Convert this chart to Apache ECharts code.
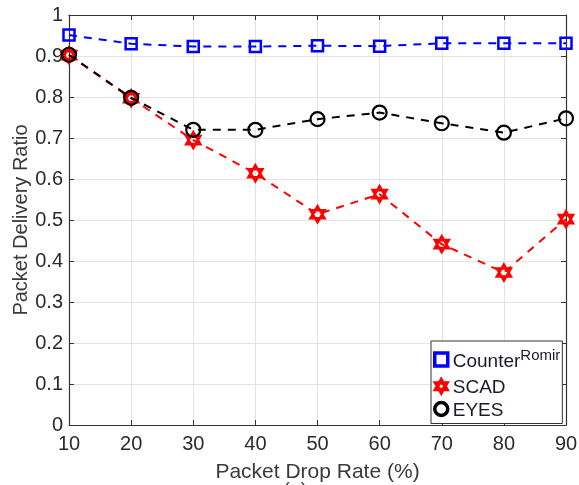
<!DOCTYPE html>
<html>
<head>
<meta charset="utf-8">
<script src="https://cdn.jsdelivr.net/npm/echarts@6/dist/echarts.min.js"></script>
<style>html,body{margin:0;padding:0;background:#fff;}#c{width:579px;height:485px;}</style>
</head>
<body>
<div id="c"></div>
<script>
var dropRates = [10, 20, 30, 40, 50, 60, 70, 80, 90];
var counterRomir = [0.951, 0.930, 0.923, 0.923, 0.925, 0.924, 0.931, 0.931, 0.931];
var scad = [0.902, 0.797, 0.695, 0.614, 0.514, 0.563, 0.441, 0.372, 0.502];
var eyes = [0.903, 0.798, 0.720, 0.720, 0.746, 0.762, 0.736, 0.713, 0.748];
var yTicks = [0, 0.1, 0.2, 0.3, 0.4, 0.5, 0.6, 0.7, 0.8, 0.9, 1];

function pairs(vals) { return dropRates.map(function (x, i) { return [x, vals[i]]; }); }

var hexagram = 'path://M0,-10L8.66,5L-8.66,5Z M0,10L-8.66,-5L8.66,-5Z';
var FONT = 'Liberation Sans, Arial, sans-serif';
var axisColor = '#333';
var textColor = '#2a2a30';

var chart = echarts.init(document.getElementById('c'), null, { renderer: 'canvas' });
chart.setOption({
  animation: false,
  backgroundColor: '#fff',
  grid: { left: 69, right: 13, top: 15, bottom: 60, show: false, containLabel: false, outerBoundsMode: 'none' },
  xAxis: [{
    type: 'value', min: 10, max: 90, interval: 10,
    name: 'Packet Drop Rate (%)', nameLocation: 'middle', nameGap: 37,
    nameTextStyle: { fontFamily: FONT, fontSize: 21, color: '#3a3a3a' },
    axisLine: { show: true, lineStyle: { color: axisColor, width: 1.2 } },
    axisTick: { show: true, inside: true, length: 5, lineStyle: { color: axisColor } },
    axisLabel: { fontFamily: FONT, fontSize: 20, color: textColor, margin: 9 },
    splitLine: { show: true, lineStyle: { color: '#e3e3e3', width: 1 } }
  }, {
    type: 'value', min: 10, max: 90, interval: 10, position: 'top',
    axisLine: { show: true, onZero: false, lineStyle: { color: axisColor, width: 1.2 } },
    axisTick: { show: true, inside: true, length: 5, lineStyle: { color: axisColor } },
    axisLabel: { show: false }, splitLine: { show: false }
  }],
  yAxis: [{
    type: 'value', min: 0, max: 1, interval: 0.1,
    name: 'Packet Delivery Ratio', nameLocation: 'middle', nameGap: 38, nameMoveOverlap: false,
    nameTextStyle: { fontFamily: FONT, fontSize: 20, color: '#3a3a3a' },
    axisLine: { show: true, lineStyle: { color: axisColor, width: 1.2 } },
    axisTick: { show: true, inside: true, length: 5, lineStyle: { color: axisColor } },
    axisLabel: { fontFamily: FONT, fontSize: 20, color: textColor, margin: 6,
      formatter: function (v) { var t = yTicks.filter(function (y) { return Math.abs(y - v) < 1e-6; }); return t.length ? String(t[0]) : ''; } },
    splitLine: { show: true, lineStyle: { color: '#e3e3e3', width: 1 } }
  }, {
    type: 'value', min: 0, max: 1, interval: 0.1, position: 'right',
    axisLine: { show: true, onZero: false, lineStyle: { color: axisColor, width: 1.2 } },
    axisTick: { show: true, inside: true, length: 5, lineStyle: { color: axisColor } },
    axisLabel: { show: false }, splitLine: { show: false }
  }],
  legend: {
    orient: 'vertical', left: 431, top: 341,
    padding: [7, 2, 3, 2], itemGap: 3, itemWidth: 13, itemHeight: 13,
    backgroundColor: '#fff', borderColor: '#333', borderWidth: 1,
    textStyle: { fontFamily: FONT, fontSize: 19, color: '#1a1a2a',
      rich: {
        m: { fontFamily: FONT, fontSize: 19, color: '#1a1a2a', verticalAlign: 'bottom', lineHeight: 23 },
        s: { fontFamily: FONT, fontSize: 15, color: '#1a1a2a', verticalAlign: 'top', lineHeight: 23, padding: [0, 0, 12, 0] }
      } },
    formatter: function (n) { return n === 'CounterRomir' ? '{m|Counter}{s|Romir}' : '{m|' + n + '}'; },
    data: [
      { name: 'CounterRomir', icon: 'rect', itemStyle: { borderWidth: 3.5 } },
      { name: 'SCAD', icon: hexagram, itemStyle: { borderWidth: 3.5 } },
      { name: 'EYES', icon: 'circle', itemStyle: { borderWidth: 3.5 } }
    ]
  },
  graphic: [{
    type: 'text', left: 283, top: 481,
    style: { text: '(a)', font: '20px Liberation Sans, Arial, sans-serif', fill: '#444' }
  }],
  series: [{
    name: 'CounterRomir', type: 'line', data: pairs(counterRomir),
    symbol: 'rect', symbolSize: 11, z: 3,
    lineStyle: { color: '#0000ff', width: 2, type: [8, 7] },
    itemStyle: { color: 'rgba(0,0,0,0)', borderColor: '#0000ff', borderWidth: 2.5 }
  }, {
    name: 'SCAD', type: 'line', data: pairs(scad),
    symbol: hexagram, symbolSize: [14, 16], z: 2,
    lineStyle: { color: '#ff0000', width: 2, type: [8, 7] },
    itemStyle: { color: 'rgba(0,0,0,0)', borderColor: '#ff0000', borderWidth: 2.5 }
  }, {
    name: 'EYES', type: 'line', data: pairs(eyes),
    symbol: 'circle', symbolSize: 14, z: 4,
    lineStyle: { color: '#000', width: 2, type: [8, 7] },
    itemStyle: { color: 'rgba(0,0,0,0)', borderColor: '#000', borderWidth: 2.2 }
  }]
});
</script>
</body>
</html>
